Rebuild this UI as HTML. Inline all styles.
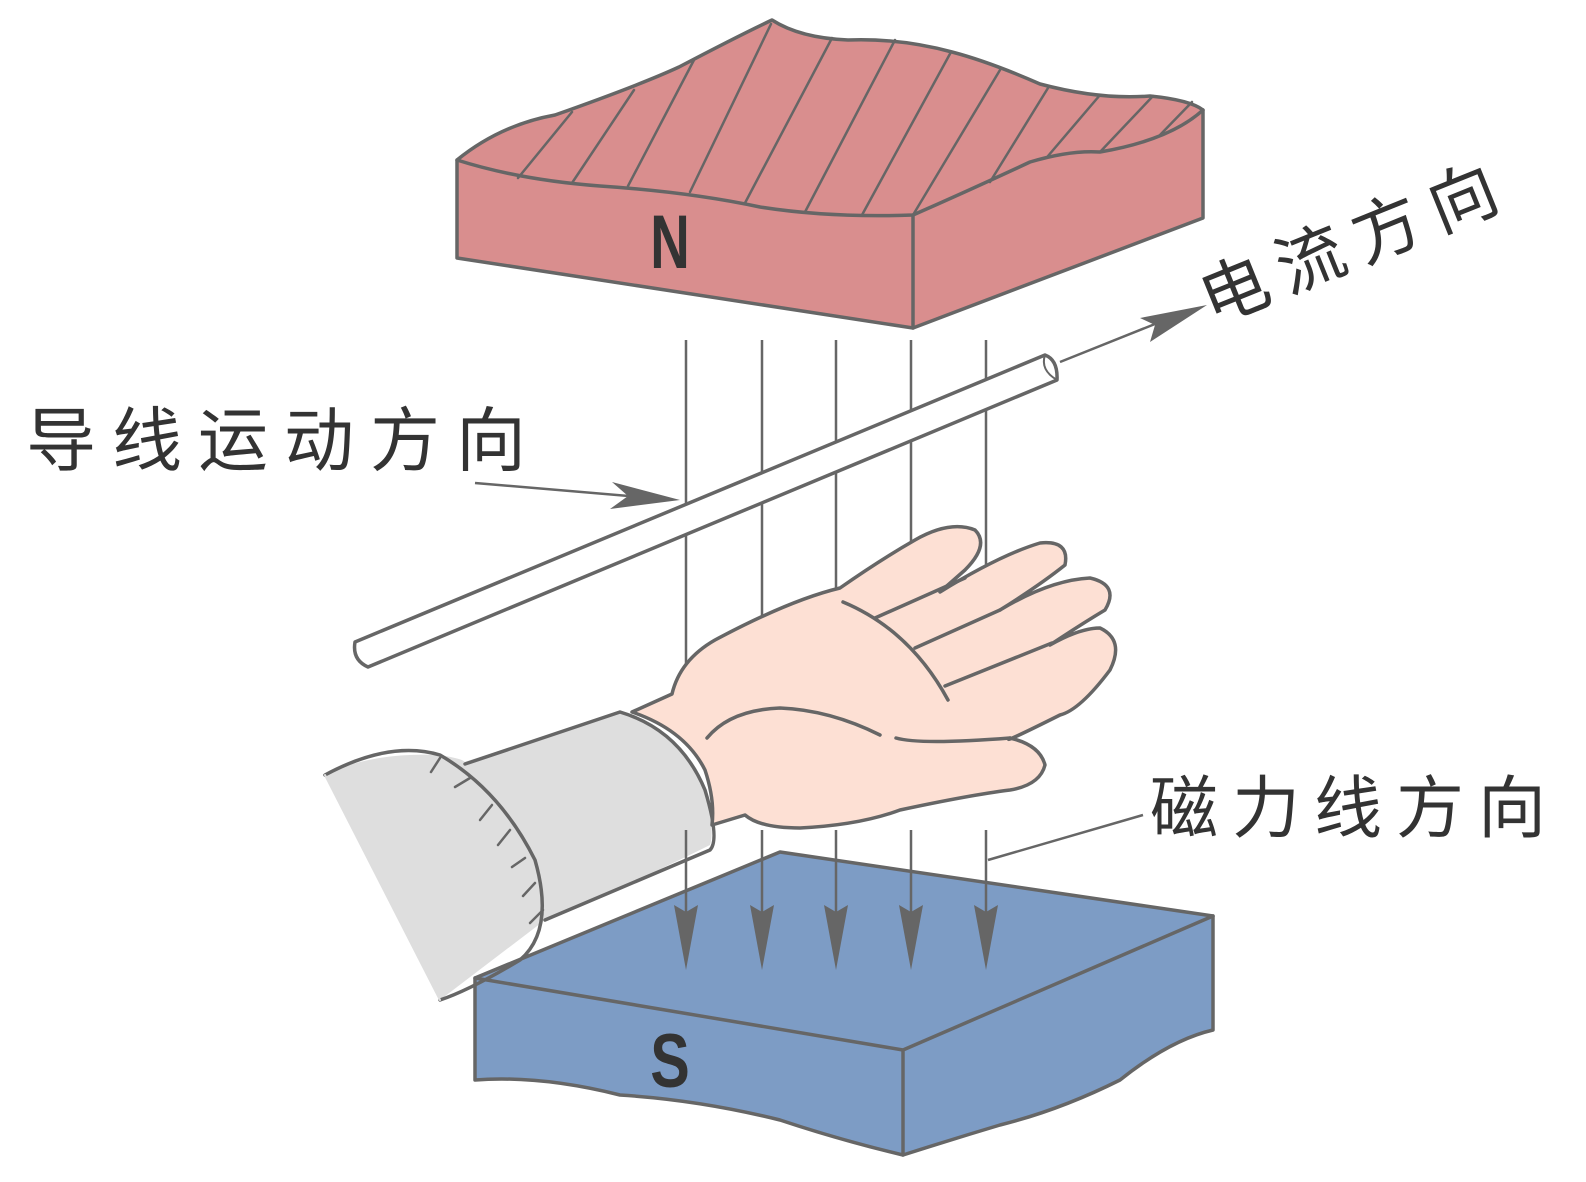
<!DOCTYPE html>
<html><head><meta charset="utf-8"><style>
html,body{margin:0;padding:0;background:#fff;}
svg{display:block;}
text{font-family:"Liberation Sans","Noto Sans CJK SC",sans-serif;fill:#333;}
</style></head><body>
<svg width="1586" height="1182" viewBox="0 0 1586 1182" xmlns="http://www.w3.org/2000/svg">
<g stroke="#666" stroke-width="3.5" stroke-linejoin="round" stroke-linecap="round">
<!-- N magnet -->
<path d="M457,160 Q500,125 555,115 Q640,85 679,67 Q740,35 772,20 Q800,38 848,40 Q900,38 952,52 Q990,62 1040,84 Q1100,100 1150,96 Q1190,100 1203,110 L1203,218 L913,328 L457,258 Z" fill="#d98e8e"/>
<path d="M457,160 Q520,180 600,186 Q690,192 760,207 Q830,218 913,215 Q970,190 1030,162 Q1070,150 1100,152 Q1170,140 1203,110" fill="none"/>
<line x1="913" y1="215" x2="913" y2="328"/>
<g stroke-width="2.5">
<line x1="518" y1="178" x2="572" y2="112"/>
<line x1="572" y1="183" x2="634" y2="90"/>
<line x1="628" y1="186" x2="694" y2="60"/>
<line x1="690" y1="192" x2="771" y2="24"/>
<line x1="745" y1="203" x2="832" y2="38"/>
<line x1="805" y1="212" x2="895" y2="40"/>
<line x1="862" y1="215" x2="951" y2="52"/>
<line x1="913" y1="215" x2="1000" y2="70"/>
<line x1="990" y1="182" x2="1048" y2="88"/>
<line x1="1048" y1="156" x2="1100" y2="95"/>
<line x1="1100" y1="152" x2="1153" y2="96"/>
<line x1="1160" y1="135" x2="1192" y2="102"/>
</g>
<!-- S magnet -->
<path d="M475,978 L780,852 L1213,916 L1213,1030 Q1170,1040 1120,1080 Q1060,1110 1000,1125 Q950,1140 903,1155 Q840,1140 780,1120 Q700,1100 620,1095 Q540,1075 475,1080 Z" fill="#7d9cc5"/>
<path d="M475,978 L903,1050 L1213,916 M903,1050 L903,1155" fill="none"/>
</g>
<text x="670" y="268" font-size="76" font-weight="bold" text-anchor="middle" transform="translate(670,0) scale(0.72,1) translate(-670,0)">N</text>
<text x="670" y="1087" font-size="76" font-weight="bold" text-anchor="middle" transform="translate(670,0) scale(0.78,1) translate(-670,0)">S</text>

<!-- upper field lines -->
<g stroke="#666" stroke-width="2.5">
<line x1="686" y1="340" x2="686" y2="740"/>
<line x1="762" y1="340" x2="762" y2="675"/>
<line x1="836" y1="340" x2="836" y2="665"/>
<line x1="911" y1="340" x2="911" y2="640"/>
<line x1="986" y1="340" x2="986" y2="640"/>
</g>

<!-- sleeve -->
<g stroke="#666" stroke-width="3.5" stroke-linejoin="round" stroke-linecap="round">
<path d="M325,775 Q370,752 440,755 Q480,762 455,765 L620,712 Q680,730 705,790 Q715,830 710,845 Q640,880 545,920 L440,1000 Z" fill="#dedede" stroke="none"/>
<path d="M325,775 Q390,740 440,755 Q500,790 535,860 Q555,930 520,960 Q470,990 440,1000" fill="none"/>
<path d="M325,775 L440,1000" stroke="#dedede" stroke-width="2"/>
<path d="M465,764 L620,712 Q680,730 705,790 Q720,840 710,850 Q640,880 545,920" fill="none"/>
<g stroke-width="2.5">
<line x1="440" y1="758" x2="431" y2="772"/>
<line x1="470" y1="778" x2="455" y2="787"/>
<line x1="492" y1="805" x2="480" y2="820"/>
<line x1="510" y1="830" x2="498" y2="845"/>
<line x1="525" y1="858" x2="512" y2="867"/>
<line x1="535" y1="883" x2="523" y2="896"/>
<line x1="543" y1="910" x2="530" y2="923"/>
</g>
<!-- hand -->
<path d="M632,712 L672,694 Q680,660 715,640 Q790,600 840,588 Q880,560 915,540 Q950,520 975,530 Q990,545 965,570 L940,592 Q1000,555 1040,543 Q1070,540 1065,565 Q1040,585 1000,610 Q1050,580 1090,578 Q1120,585 1105,610 Q1080,625 1050,645 Q1080,628 1100,628 Q1125,640 1110,670 Q1080,710 1060,715 Q1000,745 1010,738 Q1040,745 1045,765 Q1040,785 1010,790 Q970,795 900,810 Q860,825 800,828 Q760,828 745,815 L712,825 Q715,800 705,770 Q685,730 632,712 Z" fill="#fde0d4"/>
<g fill="none">
<path d="M843,602 Q910,630 948,700"/>
<path d="M875,618 L965,578"/>
<path d="M915,648 L1000,610"/>
<path d="M945,686 L1052,643"/>
<path d="M707,738 Q730,710 780,708 Q830,710 880,735"/>
<path d="M896,738 Q920,745 1010,738"/>
</g>
</g>

<!-- wire rod -->
<path d="M355,642 L1045,355 Q1058,360 1057,380 L368,667 Q352,660 355,642 Z" fill="#fff" stroke="#666" stroke-width="3.5" stroke-linejoin="round"/>
<path d="M1045,355 Q1040,370 1057,380" fill="none" stroke="#666" stroke-width="2"/>

<!-- lower field arrows -->
<g stroke="#666" stroke-width="2.5" fill="#666">
<line x1="686" y1="830" x2="686" y2="930"/>
<line x1="762" y1="830" x2="762" y2="930"/>
<line x1="836" y1="830" x2="836" y2="930"/>
<line x1="911" y1="830" x2="911" y2="930"/>
<line x1="986" y1="830" x2="986" y2="930"/>
<g stroke="none">
<path d="M674,905 L686,912 L698,905 L686,970 Z"/>
<path d="M750,905 L762,912 L774,905 L762,970 Z"/>
<path d="M824,905 L836,912 L848,905 L836,970 Z"/>
<path d="M899,905 L911,912 L923,905 L911,970 Z"/>
<path d="M974,905 L986,912 L998,905 L986,970 Z"/>
</g>
<line x1="475" y1="483" x2="640" y2="497"/>
<path d="M680,500 L612,482 L628,496 L610,509 Z" stroke="none"/>
<line x1="1060" y1="362" x2="1160" y2="322"/>
<path d="M1207,305 L1140,318 L1155,325 L1150,342 Z" stroke="none"/>
<polyline points="1143,815 988,860" fill="none"/>
</g>

<text x="26" y="465" font-size="70" letter-spacing="16">导线运动方向</text>
<text x="1150" y="832" font-size="68" letter-spacing="14">磁力线方向</text>
<text x="0" y="0" font-size="68" letter-spacing="14" transform="translate(1212,325) rotate(-22)">电流方向</text>
</svg>
</body></html>
